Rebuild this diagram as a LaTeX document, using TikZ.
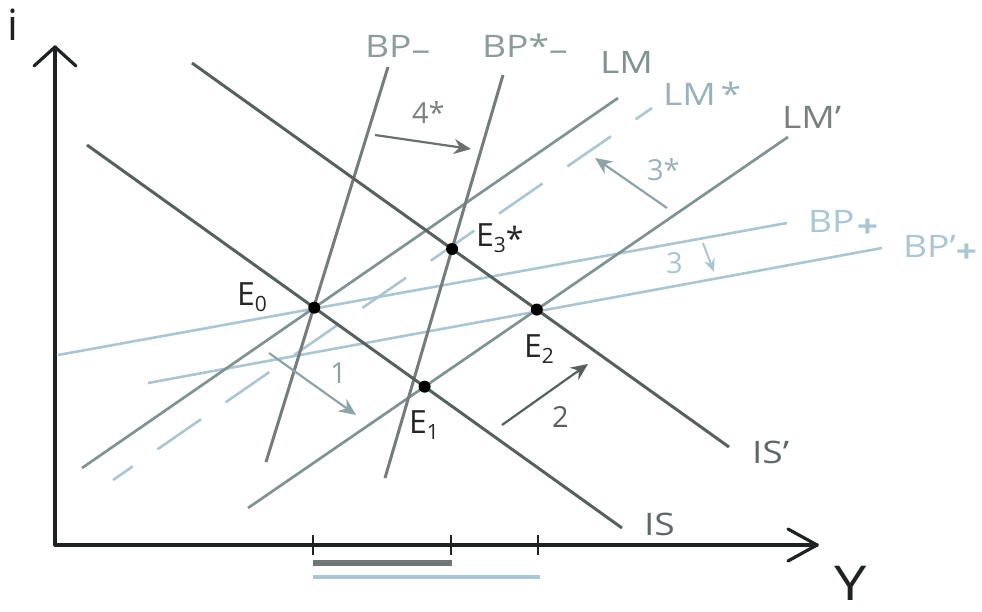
\documentclass[tikz,border=0pt]{standalone}
\usepackage{fontspec}
\setmainfont{Open Sans}
\usetikzlibrary{arrows.meta,calc}
\definecolor{axisc}{HTML}{1E2222}
\definecolor{isc}{HTML}{56615F}
\definecolor{bpc}{HTML}{737D7C}
\definecolor{lmc}{HTML}{7F9392}
\definecolor{lbc}{HTML}{A9C6D2}
\definecolor{midc}{HTML}{8EA3A8}
\definecolor{bptxt}{HTML}{8A9C9B}
\definecolor{istxt}{HTML}{5E6868}
\newcommand\lowsign[2]{\raisebox{#1}{#2}}
\newcommand\subsc[1]{\raisebox{-6pt}{\fontsize{21}{21}\selectfont #1}}
\newcommand\widetxt[1]{\scalebox{1.2}[1]{#1}}
\begin{document}
\begin{tikzpicture}[x=1pt,y=-1pt,
  every node/.style={inner sep=0pt,outer sep=0pt},
  lab/.style={font=\fontsize{31}{31}\selectfont,anchor=base west},
  num/.style={font=\fontsize{29}{29}\selectfont,anchor=base west},
  elab/.style={font=\fontsize{32}{32}\selectfont,anchor=base west,text=black!85},
  axisline/.style={draw=axisc,line width=3.2pt,line cap=round,line join=round},
  isline/.style={draw=isc,line width=3pt},
  bpline/.style={draw=bpc,line width=3pt},
  lmline/.style={draw=lmc,line width=2.7pt},
  lbline/.style={draw=lbc,line width=2.6pt},
  shiftarr/.style={line width=2.2pt,-{Stealth[length=17pt,width=15pt]}},
  dot/.style={circle,fill=black,minimum size=12pt}]
\useasboundingbox (0,0) rectangle (982,611);
% coordinates
\coordinate (O) at (55,545);
\coordinate (ytip) at (55,47);
\coordinate (xtip) at (817,545);
\coordinate (ISa) at (87,145);   \coordinate (ISb) at (622,528);
\coordinate (ISpa) at (192,63);  \coordinate (ISpb) at (729,447);
\coordinate (LMa) at (82,468);   \coordinate (LMb) at (618,98);
\coordinate (LMsa) at (113,480); \coordinate (LMsb) at (652,108);
\coordinate (LMpa) at (248,508); \coordinate (LMpb) at (788,137);
\coordinate (BPa) at (388,67);   \coordinate (BPb) at (266,462);
\coordinate (BPsa) at (503,75);  \coordinate (BPsb) at (385,478);
\coordinate (BPpa) at (58,355);  \coordinate (BPpb) at (787,223);
\coordinate (BPppa) at (148,383); \coordinate (BPppb) at (882,248);
% bars under the axis
\fill[bpc!95!black] (313,560) rectangle (452,566);
\fill[lbc] (313,575) rectangle (540,579);
% light lines
\draw[lbline] (BPpa) -- (BPpb);
\draw[lbline] (BPppa) -- (BPppb);
\draw[lbline,dash pattern=on 53pt off 30pt,dash phase=29pt] (LMsa) -- (LMsb);
% LM lines
\draw[lmline] (LMa) -- (LMb);
\draw[lmline] (LMpa) -- (LMpb);
% BP- lines
\draw[bpline] (BPa) -- (BPb);
\draw[bpline] (BPsa) -- (BPsb);
% IS lines
\draw[isline] (ISa) -- (ISb);
\draw[isline] (ISpa) -- (ISpb);
% axes
\draw[axisline] (ytip) -- (O) -- (xtip);
\coordinate (yw1) at (34,66); \coordinate (yw2) at (76,66);
\coordinate (xw1) at (788,529); \coordinate (xw2) at (788,561);
\draw[axisline] (yw1) -- (ytip) -- (yw2);
\draw[axisline] (xw1) -- (xtip) -- (xw2);
% ticks
\foreach \tx/\tn in {313/ta,451/tb,538/tc}{
  \coordinate (\tn1) at (\tx,535); \coordinate (\tn2) at (\tx,555);
  \draw[draw=axisc,line width=2pt] (\tn1) -- (\tn2);
}
% equilibrium dots
\node[dot] (E0) at (intersection of ISa--ISb and LMa--LMb) {};
\node[dot] (E1) at (intersection of ISa--ISb and LMpa--LMpb) {};
\node[dot] (E2) at (intersection of ISpa--ISpb and LMpa--LMpb) {};
\node[dot] (E3) at (intersection of ISpa--ISpb and BPsa--BPsb) {};
% shift arrows
\coordinate (a4s) at (375,135); \coordinate (a4e) at (471,149);
\draw[shiftarr,draw=isc!90,fill=isc!90] (a4s) -- (a4e);
\coordinate (a3ss) at (667,208); \coordinate (a3se) at (595,158);
\draw[shiftarr,draw=midc,fill=midc] (a3ss) -- (a3se);
\coordinate (a3s) at (703,243); \coordinate (a3e) at (714,272);
\draw[line width=2pt,-{Stealth[length=13pt,width=11pt]},draw=lbc,fill=lbc] (a3s) -- (a3e);
\coordinate (a1s) at (269,353); \coordinate (a1e) at (356,415);
\draw[shiftarr,draw=midc,fill=midc] (a1s) -- (a1e);
\coordinate (a2s) at (502,425); \coordinate (a2e) at (588,364);
\draw[shiftarr,draw=isc,fill=isc] (a2s) -- (a2e);
% labels
\node[font=\fontsize{43}{43}\selectfont,anchor=base,text=axisc] (li) at (12.5,40) {i};
\node[font=\fontsize{48}{48}\selectfont,anchor=base,text=axisc,text depth=0pt] (lY) at (851,600) {\widetxt{Y}};
\node[lab,text=bptxt] (lBPm) at (365,57) {\widetxt{BP\lowsign{-3pt}{–}}};
\node[lab,text=bptxt] (lBPsm) at (482,57) {\widetxt{BP*\lowsign{-3pt}{–}}};
\node[lab,text=lmc] (lLM) at (600,73) {\widetxt{LM}};
\node[lab,text=lbc!90!black] (lLMs) at (663,105) {\widetxt{LM\hspace{4pt}*}};
\node[lab,text=isc!80] (lLMp) at (782,128) {\widetxt{LM’}};
\node[lab,text=lbc] (lBPp) at (808,232) {\widetxt{BP\hspace{2pt}\lowsign{-5pt}{\textbf{+}}}};
\node[lab,text=lbc] (lBPpp) at (903,257) {\widetxt{BP’\lowsign{-5pt}{\textbf{+}}}};
\node[lab,text=istxt] (lISp) at (752,463) {\widetxt{IS’}};
\node[lab,text=istxt] (lIS) at (644,535) {\widetxt{IS}};
\node[num,text=isc!80] (l4) at (412,123) {4*};
\node[num,text=lbc!90!black] (l3s) at (647,180) {3*};
\node[num,text=lbc] (l3) at (666,273) {3};
\node[num,text=midc] (l1) at (330,383) {1};
\node[num,text=isc] (l2) at (552,427) {2};
\node[elab] (lE0) at (237,305) {E\subsc{0}};
\node[elab] (lE1) at (409,433) {E\subsc{1}};
\node[elab] (lE2) at (524,357) {E\subsc{2}};
\node[elab] (lE3) at (476,246) {E\subsc{3}\raisebox{-4pt}{*}};
\end{tikzpicture}
\end{document}
